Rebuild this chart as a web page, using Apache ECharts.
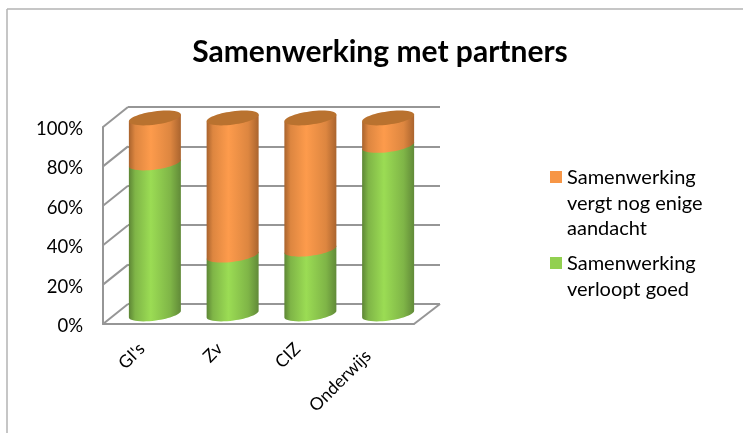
<!DOCTYPE html>
<html>
<head>
<meta charset="utf-8">
<style>
  html, body { margin: 0; padding: 0; background: #fff; }
  #main { width: 743px; height: 433px; }
</style>
<script src="https://cdn.jsdelivr.net/npm/echarts@6/dist/echarts.min.js"></script>
</head>
<body>
<div id="main"></div>
<script>
// data
const categories = ["GI's", 'Zv', 'CIZ', 'Onderwijs']
const goed = [77, 30, 33, 86]
const aandacht = [23, 70, 67, 14]
const ticks = [0, 20, 40, 60, 80, 100]
const seriesNames = ['Samenwerking verloopt goed', 'Samenwerking vergt nog enige aandacht']

const FONT = 'Lato'
const GRID_COLOR = '#969696'
// depth of the 3d box, from the back wall to the front plane
const DEPTH_X = -25
const DEPTH_Y = 20
const BAR_W = 52
const TILT = 3.5   // the ellipses lean, right end is higher
const MINOR = 6.5  // half height of an ellipse
const K = 0.5523   // bezier constant for a quarter ellipse

const chart = echarts.init(document.getElementById('main'), null, {renderer: 'canvas'})

function cylinderGradient(edgeL, mid, edgeR) {
  return {
    type: 'linear', x: 0, y: 0, x2: 1, y2: 0,
    colorStops: [
      {offset: 0, color: edgeL},
      {offset: 0.12, color: mid[0]},
      {offset: 0.42, color: mid[1]},
      {offset: 0.8, color: mid[0]},
      {offset: 1, color: edgeR}
    ]
  }
}

// half ellipse between the two ends, side = 1 goes via the front (lower edge), -1 via the back
function halfEllipse(cx, cy, from, side) {
  const ux = from * BAR_W / 2, uy = -from * TILT
  const vx = side * TILT / (BAR_W / 2) * MINOR, vy = side * MINOR
  const pt = (a, b) => `${cx + a * ux + b * vx} ${cy + a * uy + b * vy}`
  return `C${pt(-1, K)} ${pt(-K, 1)} ${pt(0, 1)} C${pt(K, 1)} ${pt(1, K)} ${pt(1, 0)}`
}

// one cylinder segment, from value(1) up to value(2)
function renderCylinder(params, api, colors, withTop) {
  const p0 = api.coord([api.value(0), api.value(1)])
  const p1 = api.coord([api.value(0), api.value(2)])
  const cx = p0[0]
  const r = BAR_W / 2
  const body = `M${cx - r} ${p1[1] + TILT} L${cx + r} ${p1[1] - TILT}` +
    ` L${cx + r} ${p0[1] - TILT} ${halfEllipse(cx, p0[1], -1, 1)} Z`
  const children = [{
    type: 'path',
    shape: {pathData: body},
    style: {fill: colors.body}
  }]
  if (withTop) {
    children.push({
      type: 'path',
      shape: {
        pathData: `M${cx - r} ${p1[1] + TILT} ${halfEllipse(cx, p1[1], 1, 1)} ${halfEllipse(cx, p1[1], -1, -1)} Z`
      },
      style: {fill: colors.top}
    })
  }
  return {type: 'group', children}
}

const greenColors = {
  body: cylinderGradient('#5d8635', ['#7fb547', '#9bdc54'], '#618a38')
}
const orangeColors = {
  body: cylinderGradient('#a9632d', ['#dd8640', '#fd9b4c'], '#aa642e'),
  top: '#b9722f'
}

const goedData = categories.map((c, i) => [i, 0, goed[i]])
const aandachtData = categories.map((c, i) => [i, goed[i], goed[i] + aandacht[i]])

const option = {
  animation: false,
  backgroundColor: '#fff',
  title: {
    text: 'Samenwerking met partners',
    left: 375,
    top: 32,
    textAlign: 'center',
    textStyle: {fontFamily: FONT, fontSize: 30, fontWeight: 'bold', color: '#000'}
  },
  grid: [
    {left: 128, top: 107, width: 312, height: 197},  // back wall
    {left: 103, top: 127, width: 311, height: 197},  // front plane, carries the labels
    {left: 116, top: 118, width: 311, height: 196}   // middle, where the cylinders stand
  ],
  xAxis: [
    {gridIndex: 0, type: 'category', data: categories, show: false},
    {
      gridIndex: 1, type: 'category', data: categories,
      axisTick: {show: false},
      axisLine: {lineStyle: {color: GRID_COLOR, width: 2}},
      axisLabel: {
        rotate: 45, margin: 22, fontFamily: FONT, fontSize: 17.5, color: '#000', interval: 0,
        // the long label sits a bit further out along its slope
        formatter: (v, i) => i === 3 ? `{far|${v}}` : v,
        rich: {far: {fontFamily: FONT, fontSize: 17.5, color: '#000', padding: [0, 10, 0, 0]}}
      }
    },
    {gridIndex: 2, type: 'category', data: categories, show: false}
  ],
  yAxis: [
    {
      gridIndex: 0, type: 'value', min: 0, max: 100, interval: 20,
      axisLine: {show: false}, axisTick: {show: false}, axisLabel: {show: false},
      splitLine: {lineStyle: {color: GRID_COLOR, width: 2}}
    },
    {
      gridIndex: 1, type: 'value', min: 0, max: 100, interval: 20,
      axisLine: {show: true, lineStyle: {color: GRID_COLOR, width: 2}},
      axisTick: {show: false},
      splitLine: {show: false},
      axisLabel: {
        margin: 20,
        formatter: v => `{v|${v}%}`,
        rich: {v: {fontFamily: FONT, fontSize: 18.5, color: '#000', padding: [4, 0, 0, 0]}}
      }
    },
    {gridIndex: 2, type: 'value', min: 0, max: 100, show: false, splitLine: {show: false}}
  ],
  series: [
    {
      // left wall and floor side, from the ticks on the back wall
      type: 'custom',
      xAxisIndex: 0,
      yAxisIndex: 0,
      silent: true,
      z: 1,
      data: ticks.map(t => [0, t]),
      renderItem(params, api) {
        const p = api.coord([0, api.value(1)])
        const xBack = params.coordSys.x
        const lines = [{
          type: 'line',
          shape: {x1: xBack, y1: p[1], x2: xBack + DEPTH_X, y2: p[1] + DEPTH_Y},
          style: {stroke: GRID_COLOR, lineWidth: 2}
        }]
        if (api.value(1) === 0) {
          const xRight = xBack + params.coordSys.width
          lines.push({
            type: 'line',
            shape: {x1: xRight, y1: p[1], x2: xRight + DEPTH_X - 1, y2: p[1] + DEPTH_Y},
            style: {stroke: GRID_COLOR, lineWidth: 2}
          })
        }
        return {type: 'group', children: lines}
      }
    },
    {
      name: seriesNames[0],
      type: 'custom',
      xAxisIndex: 2,
      yAxisIndex: 2,
      z: 2,
      data: goedData,
      encode: {x: 0, y: [1, 2]},
      renderItem: (params, api) => renderCylinder(params, api, greenColors, false)
    },
    {
      name: seriesNames[1],
      type: 'custom',
      xAxisIndex: 2,
      yAxisIndex: 2,
      z: 3,
      data: aandachtData,
      encode: {x: 0, y: [1, 2]},
      renderItem: (params, api) => renderCylinder(params, api, orangeColors, true)
    }
  ],
  graphic: [
    // chart area border, runs off the picture on the right and bottom
    {type: 'line', shape: {x1: 7, y1: 9, x2: 743, y2: 9}, style: {stroke: '#b3b3b3', lineWidth: 1.5}},
    {type: 'line', shape: {x1: 7, y1: 9, x2: 7, y2: 433}, style: {stroke: '#b3b3b3', lineWidth: 1.5}},
    // legend, text wraps like the original
    {type: 'rect', shape: {x: 550, y: 171, width: 12, height: 12}, style: {fill: '#f79646'}},
    {
      type: 'text', left: 567, top: 165,
      style: {text: 'Samenwerking\nvergt nog enige\naandacht', font: `20px ${FONT}`, fill: '#000', lineHeight: 25.5}
    },
    {type: 'rect', shape: {x: 550, y: 257, width: 12, height: 12}, style: {fill: '#92d050'}},
    {
      type: 'text', left: 567, top: 251,
      style: {text: 'Samenwerking\nverloopt goed', font: `20px ${FONT}`, fill: '#000', lineHeight: 25.5}
    }
  ]
}
chart.setOption(option)
</script>
</body>
</html>
